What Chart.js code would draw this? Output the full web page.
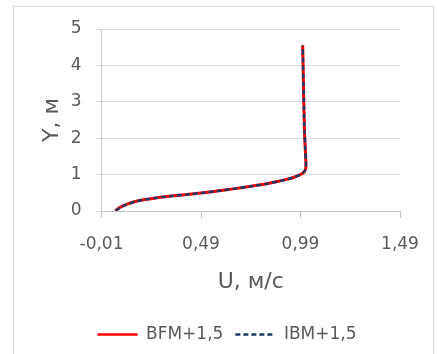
<!DOCTYPE html>
<html>
<head>
<meta charset="utf-8">
<script src="https://cdn.jsdelivr.net/npm/chart.js@4/dist/chart.umd.min.js"></script>
<style>
  html, body { margin: 0; padding: 0; background: #ffffff; }
  #wrap { position: relative; width: 437px; height: 354px; overflow: hidden; }
  #frame { position: absolute; left: 13px; top: 6px; width: 421px; height: 360px; border: 1px solid #d9d9d9; box-sizing: border-box; }
  #c { position: absolute; left: 0; top: 0; }
</style>
</head>
<body>
<div id="wrap">
  <div id="frame"></div>
  <canvas id="c" width="437" height="354"></canvas>
</div>
<script>
// Reference data
const seriesNames = ['BFM+1,5', 'IBM+1,5'];
const yValues   = [0.00, 0.05, 0.12, 0.19, 0.26, 0.315, 0.365, 0.41, 0.455, 0.50, 0.555, 0.615, 0.68, 0.75, 0.815, 0.875, 0.935, 0.99, 1.05, 1.12, 1.20, 1.35, 1.70, 2.20, 3.15, 4.00, 4.55];
const uBFM      = [0.060, 0.070, 0.090, 0.120, 0.160, 0.210, 0.270, 0.340, 0.420, 0.500, 0.580, 0.660, 0.740, 0.820, 0.880, 0.925, 0.960, 0.985, 1.003, 1.013, 1.017, 1.017, 1.014, 1.010, 1.006, 1.003, 1.001];
const uIBM      = [0.062, 0.071, 0.091, 0.121, 0.161, 0.211, 0.271, 0.341, 0.421, 0.501, 0.581, 0.661, 0.741, 0.821, 0.881, 0.926, 0.961, 0.986, 1.003, 1.013, 1.017, 1.017, 1.014, 1.010, 1.006, 1.003, 1.001];
const xTickValues = [-0.01, 0.49, 0.99, 1.49];
const xTickLabels = ['-0,01', '0,49', '0,99', '1,49'];
const yTickValues = [0, 1, 2, 3, 4, 5];
const xTitle = 'U, м/с';
const yTitle = 'Y, м';

const toPoints = (xs, ys) => xs.map((x, i) => ({ x: x, y: ys[i] }));
const textColor = '#595959';
const FONT = "'DejaVu Sans', sans-serif";

new Chart(document.getElementById('c'), {
  type: 'scatter',
  data: {
    datasets: [
      {
        label: seriesNames[0],
        data: toPoints(uBFM, yValues),
        showLine: true,
        borderColor: '#ff0000',
        backgroundColor: '#ff0000',
        borderWidth: 3,
        pointRadius: 0,
        pointStyle: 'line',
        tension: 0.3,
        order: 2
      },
      {
        label: seriesNames[1],
        data: toPoints(uIBM, yValues),
        showLine: true,
        borderColor: '#1f3864',
        backgroundColor: '#1f3864',
        borderWidth: 2.5,
        borderDash: [5, 3],
        pointRadius: 0,
        pointStyle: 'line',
        tension: 0.3,
        order: 1
      }
    ]
  },
  options: {
    responsive: false,
    animation: false,
    events: [],
    layout: { padding: { left: 54, top: 29, right: 37, bottom: 1 } },
    plugins: {
      tooltip: { enabled: false },
      legend: {
        position: 'bottom',
        labels: {
          usePointStyle: true,
          pointStyle: 'line',
          pointStyleWidth: 40,
          color: textColor,
          font: { family: FONT, size: 17 },
          padding: 12,
          sort: (a, b) => a.datasetIndex - b.datasetIndex,
          generateLabels: (chart) => {
            const items = Chart.defaults.plugins.legend.labels.generateLabels(chart);
            items.forEach(it => {
              const ds = chart.data.datasets[it.datasetIndex];
              it.lineDash = ds.borderDash || [];
              it.lineWidth = 2.5;
              it.strokeStyle = ds.borderColor;
              it.pointStyle = 'line';
            });
            return items;
          }
        }
      }
    },
    scales: {
      x: {
        type: 'linear',
        min: -0.01,
        max: 1.49,
        afterBuildTicks: (scale) => { scale.ticks = xTickValues.map(v => ({ value: v })); },
        afterFit: (scale) => { scale.height = 103; },
        ticks: {
          color: textColor,
          font: { family: FONT, size: 17 },
          padding: 16,
          maxRotation: 0,
          callback: (v, i) => xTickLabels[i]
        },
        grid: { drawOnChartArea: false, drawTicks: true, tickLength: 7, color: '#bfbfbf' },
        border: { color: '#bfbfbf' },
        title: {
          display: true,
          text: xTitle,
          color: textColor,
          font: { family: FONT, size: 22 },
          padding: { top: 0, bottom: 19 }
        }
      },
      y: {
        type: 'linear',
        min: 0,
        max: 5,
        afterBuildTicks: (scale) => { scale.ticks = yTickValues.map(v => ({ value: v })); },
        afterFit: (scale) => { scale.width = 47.5; },
        ticks: {
          color: textColor,
          font: { family: FONT, size: 17 },
          padding: 14,
          callback: (v) => String(v)
        },
        grid: { color: '#d9d9d9', drawTicks: true, tickLength: 6 },
        border: { color: '#c8c8c8' },
        title: {
          display: true,
          text: yTitle,
          color: textColor,
          font: { family: FONT, size: 22 },
          padding: { top: -15, bottom: 0 }
        }
      }
    }
  }
});
</script>
</body>
</html>
